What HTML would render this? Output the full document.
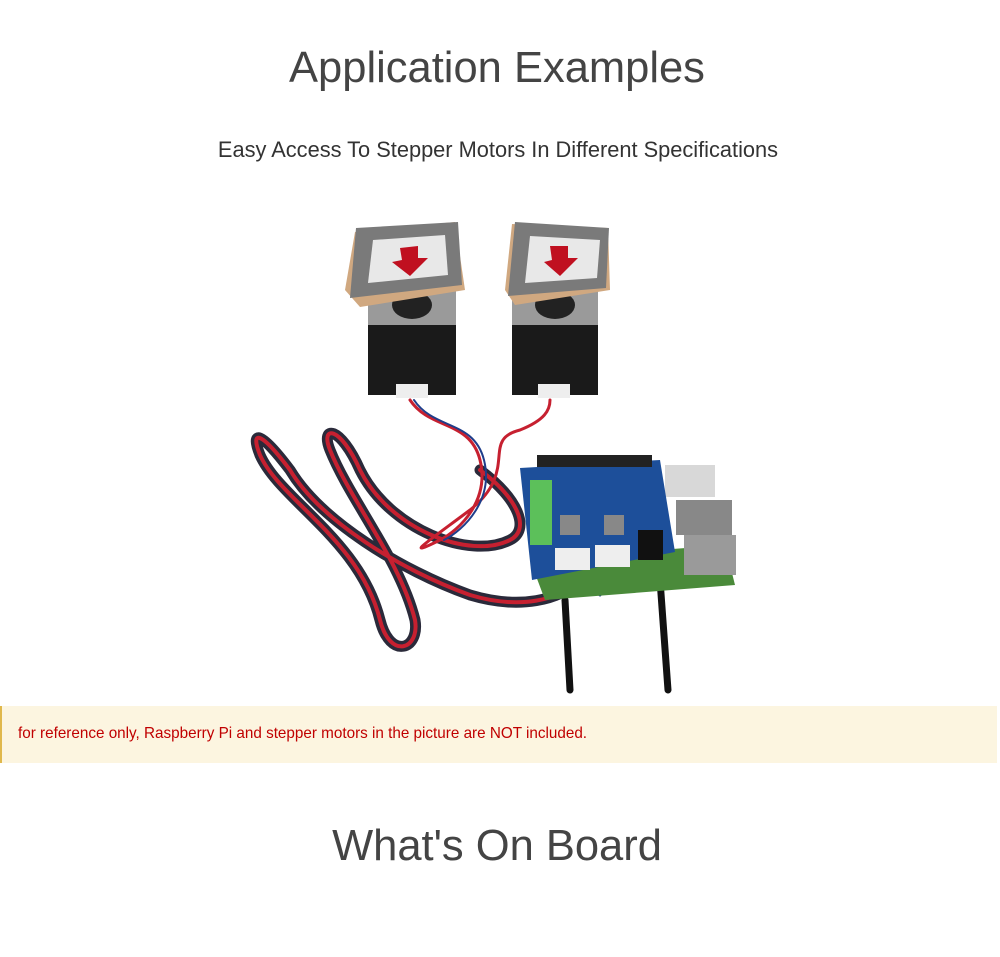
<!DOCTYPE html>
<html><head><meta charset="utf-8"><style>
html,body{margin:0;padding:0;background:#fff;width:1000px;height:957px;overflow:hidden;font-family:"Liberation Sans",Arial,sans-serif;color:#444}
.h1{position:absolute;left:0;width:994px;text-align:center;font-size:43.5px;color:#444}
.sub{position:absolute;left:0;width:996px;text-align:center;font-size:21.8px;color:#333;top:137px}
.note{position:absolute;left:0;top:706px;width:997px;height:57px;background:#fcf5e0;border-left:2px solid #e0b84c;box-sizing:border-box}
.note span{position:absolute;left:16px;top:19px;font-size:15.25px;color:#c00000}
svg{position:absolute;left:0;top:0}
</style></head><body>
<div class="h1" style="top:44px">Application Examples</div>
<div class="sub">Easy Access To Stepper Motors In Different Specifications</div>
<svg width="1000" height="700" viewBox="0 0 1000 700">
<g fill="none" stroke-linecap="round">
<path d="M570 690 L565 600" stroke="#111" stroke-width="7"/>
<path d="M668 690 L660 580 L652 540" stroke="#111" stroke-width="7"/>
<path d="M580 580 C560 600 520 610 470 595 C400 570 320 520 290 470 C260 430 250 430 260 455 C280 500 360 540 380 620 C390 660 420 650 415 620 C400 560 350 500 330 450 C320 425 340 425 360 470 C390 530 470 560 510 540 C530 530 520 500 480 470" stroke="#2a2a3a" stroke-width="11"/>
<path d="M580 580 C560 600 520 610 470 595 C400 570 320 520 290 470 C260 430 250 430 260 455 C280 500 360 540 380 620 C390 660 420 650 415 620 C400 560 350 500 330 450 C320 425 340 425 360 470 C390 530 470 560 510 540 C530 530 520 500 480 470" stroke="#c62030" stroke-width="4"/>
<path d="M410 400 C430 430 470 420 480 460 C490 500 460 530 440 540 C400 560 430 540 470 510 C520 470 480 440 520 430 C545 420 550 410 550 400" stroke="#c62030" stroke-width="3"/>
<path d="M414 400 C434 430 474 420 484 460 C494 500 464 530 444 540" stroke="#1e3d8a" stroke-width="2"/>
<path d="M590 590 C600 570 605 560 610 555 M600 595 C608 570 608 560 605 555" stroke="#1e3d8a" stroke-width="3"/>
</g>
<polygon points="530,560 725,545 735,585 545,600" fill="#4a8a3a"/>
<rect x="665" y="465" width="50" height="32" fill="#d8d8d8"/>
<rect x="676" y="500" width="56" height="35" fill="#888"/>
<rect x="684" y="535" width="52" height="40" fill="#9a9a9a"/>
<polygon points="520,468 660,460 675,552 532,580" fill="#1d4f9a"/>
<rect x="537" y="455" width="115" height="12" fill="#222"/>
<rect x="530" y="480" width="22" height="65" fill="#5cc05a"/>
<rect x="560" y="515" width="20" height="20" fill="#888"/>
<rect x="604" y="515" width="20" height="20" fill="#888"/>
<rect x="555" y="548" width="35" height="22" fill="#eee"/>
<rect x="595" y="545" width="35" height="22" fill="#eee"/>
<rect x="638" y="530" width="25" height="30" fill="#111"/>
<rect x="368" y="285" width="88" height="42" fill="#9a9a9a"/>
<rect x="368" y="325" width="88" height="70" fill="#1a1a1a"/>
<rect x="396" y="384" width="32" height="14" fill="#eee"/>
<ellipse cx="412" cy="305" rx="20" ry="14" fill="#222"/>
<polygon points="355,232 455,222 465,290 360,307 345,290" fill="#d0a880"/>
<polygon points="356,228 458,222 462,285 350,298" fill="#7a7a7a"/>
<polygon points="373,240 445,235 448,275 368,283" fill="#e8e8e8"/>
<polygon points="400,248 418,246 418,258 428,258 410,276 392,262 402,260" fill="#c01020"/>
<rect x="512" y="285" width="86" height="42" fill="#9a9a9a"/>
<rect x="512" y="325" width="86" height="70" fill="#1a1a1a"/>
<rect x="538" y="384" width="32" height="14" fill="#eee"/>
<ellipse cx="555" cy="305" rx="20" ry="14" fill="#222"/>
<polygon points="512,224 608,228 610,290 515,305 505,290" fill="#d0a880"/>
<polygon points="515,222 609,228 606,288 508,296" fill="#7a7a7a"/>
<polygon points="530,236 600,240 597,278 525,283" fill="#e8e8e8"/>
<polygon points="550,246 568,246 568,258 578,258 560,276 544,262 552,260" fill="#c01020"/>
</svg>
<div class="note"><span>for reference only, Raspberry Pi and stepper motors in the picture are NOT included.</span></div>
<div class="h1" style="top:822px">What's On Board</div>
</body></html>
